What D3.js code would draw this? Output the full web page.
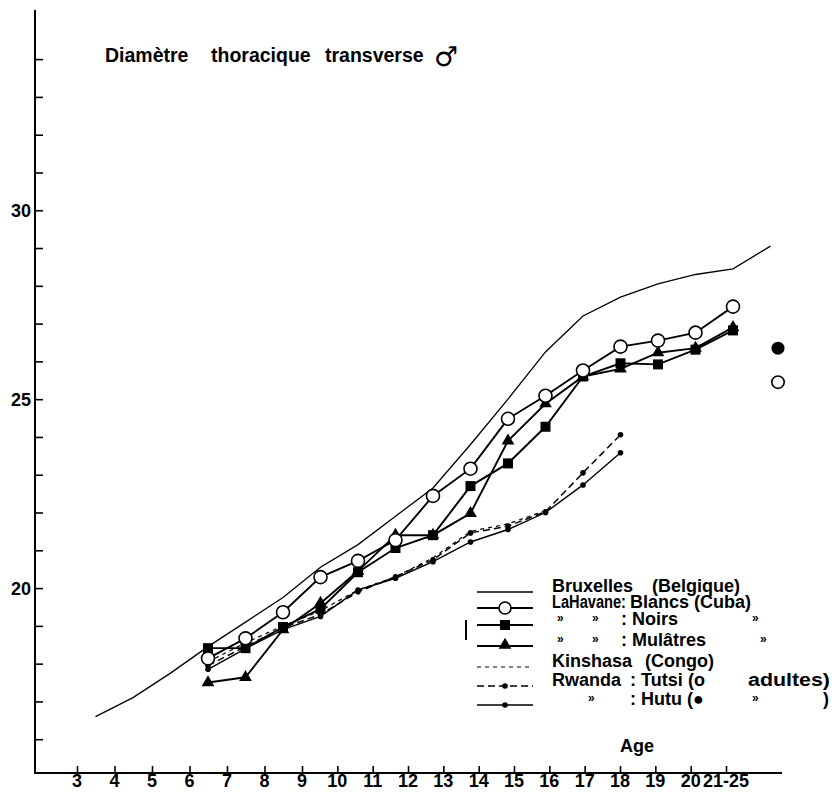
<!DOCTYPE html>
<html>
<head>
<meta charset="utf-8">
<script src="https://cdn.jsdelivr.net/npm/d3@7"></script>
<style>
  body { margin: 0; background: #fff; }
  text { font-family: "Liberation Sans", Arial, sans-serif; fill: #000; }
</style>
</head>
<body>
<script>
// ---- data ----
const ages = [6.5, 7.5, 8.5, 9.5, 10.5, 11.5, 12.5, 13.5, 14.5, 15.5, 16.5, 17.5, 18.5, 19.5, 20.5]
const blancs   = [18.14, 18.67, 19.36, 20.29, 20.72, 21.27, 22.44, 23.16, 24.48, 25.09, 25.76, 26.39, 26.55, 26.76, 27.45]
const noirs    = [18.41, 18.41, 18.97, 19.45, 20.42, 21.06, 21.4, 22.7, 23.3, 24.27, 25.6, 25.95, 25.92, 26.31, 26.82]
const mulatres = [17.5, 17.64, 18.9, 19.6, 20.45, 21.4, 21.4, 21.98, 23.9, 24.88, 25.6, 25.8, 26.23, 26.35, 26.9]

const bruxAges   = [3.5, 4.5, 5.5, 6.5, 7.5, 8.5, 9.5, 10.5, 11.5, 12.5, 13.5, 14.5, 15.5, 16.5, 17.5, 18.5, 19.5, 20.5, 21.5]
const bruxelles  = [16.6, 17.1, 17.75, 18.45, 19.1, 19.75, 20.55, 21.15, 21.9, 22.65, 23.8, 25.0, 26.25, 27.2, 27.7, 28.05, 28.3, 28.45, 29.05]

const africaAges = [6.5, 7.5, 8.5, 9.5, 10.5, 11.5, 12.5, 13.5, 14.5, 15.5, 16.5, 17.5]
const kinshasa   = [18.05, 18.55, 19.0, 19.4, 19.95, 20.3, 20.8, 21.5, 21.7, 22.05]
const tutsi      = [17.95, 18.45, 18.95, 19.3, 19.9, 20.3, 20.75, 21.46, 21.64, 22.02, 23.05, 24.06]
const hutu       = [17.85, 18.4, 18.9, 19.25, 19.95, 20.26, 20.7, 21.22, 21.55, 22.0, 22.73, 23.58]

const adultAge = 21.7
const tutsiAdult = 25.45
const hutuAdult = 26.35

const xTicks = [3, 4, 5, 6, 7, 8, 9, 10, 11, 12, 13, 14, 15, 16, 17, 18, 19, 20, 21]
const xTickLabels = ["3", "4", "5", "6", "7", "8", "9", "10", "11", "12", "13", "14", "15", "16", "17", "18", "19", "20", "21-25"]
const yTicks = d3.range(16, 35)
const yTickLabels = { 20: "20", 25: "25", 30: "30" }

// ---- setup ----
const WIDTH = 838
const HEIGHT = 795
const svg = d3.select("body").append("svg").attr("width", WIDTH).attr("height", HEIGHT)

// data scale (points are evenly spaced, 37.5 px / year)
const x = d3.scaleLinear().domain([6.5, 20.5]).range([208, 733])
// the printed axis ticks are squeezed after 9
const xAxisScale = d3.scaleLinear().domain([3, 9, 21]).range([77, 302, 726])
const y = d3.scaleLinear().domain([15, 35.3]).range([777, 10])

const axisX0 = 35
const axisY0 = 773

// y axis
const yAxis = svg.append("g").attr("transform", "translate(" + axisX0 + ",0)")
  .call(d3.axisRight(y).tickValues(yTicks).tickSize(8).tickFormat(""))
yAxis.select(".domain").remove()
yAxis.selectAll(".tick line").attr("stroke-width", 1.6)
svg.append("line").attr("x1", axisX0).attr("x2", axisX0).attr("y1", 10).attr("y2", axisY0 + 1)
  .attr("stroke", "#000").attr("stroke-width", 2)
svg.selectAll(".ylab").data(Object.keys(yTickLabels)).enter().append("text")
  .attr("x", 31).attr("y", d => y(+d) + 7)
  .attr("text-anchor", "end").attr("font-size", 18).attr("font-weight", "bold")
  .text(d => yTickLabels[d])

// x axis
const xAxis = svg.append("g").attr("transform", "translate(0," + axisY0 + ")")
  .call(d3.axisTop(xAxisScale).tickValues(xTicks).tickSize(7).tickFormat(""))
xAxis.select(".domain").remove()
xAxis.selectAll(".tick line").attr("stroke-width", 1.6)
svg.append("line").attr("x1", axisX0).attr("x2", 782).attr("y1", axisY0).attr("y2", axisY0)
  .attr("stroke", "#000").attr("stroke-width", 2)
svg.selectAll(".xlab").data(xTicks).enter().append("text")
  .attr("x", d => xAxisScale(d)).attr("y", 787)
  .attr("text-anchor", "middle").attr("font-size", 18).attr("font-weight", "bold")
  .text((d, i) => xTickLabels[i])

svg.append("text").attr("x", 620).attr("y", 752).attr("font-size", 18).attr("font-weight", "bold").text("Age")

// title
const titleWords = [[105, "Diamètre"], [211, "thoracique"], [325, "transverse"]]
titleWords.forEach(w => {
  svg.append("text").attr("x", w[0]).attr("y", 62).attr("font-size", 19.5).attr("font-weight", "bold").text(w[1])
})
svg.append("text").attr("x", 434).attr("y", 66).attr("font-size", 27).attr("font-weight", "bold")
  .style("font-family", "DejaVu Sans").text("♂")

// ---- lines ----
const line = d3.line().x(d => x(d[0])).y(d => y(d[1]))
const zip = (xs, vs) => vs.map((v, i) => [xs[i], v])

svg.append("path").datum(zip(bruxAges, bruxelles)).attr("d", line)
  .attr("fill", "none").attr("stroke", "#000").attr("stroke-width", 1.3)
svg.append("path").datum(zip(africaAges, kinshasa)).attr("d", line)
  .attr("fill", "none").attr("stroke", "#000").attr("stroke-width", 1.2).attr("stroke-dasharray", "4,4")
svg.append("path").datum(zip(africaAges, tutsi)).attr("d", line)
  .attr("fill", "none").attr("stroke", "#000").attr("stroke-width", 1.5).attr("stroke-dasharray", "7,4")
svg.append("path").datum(zip(africaAges, hutu)).attr("d", line)
  .attr("fill", "none").attr("stroke", "#000").attr("stroke-width", 1.4)

;[mulatres, noirs, blancs].forEach(vals => {
  svg.append("path").datum(zip(ages, vals)).attr("d", line)
    .attr("fill", "none").attr("stroke", "#000").attr("stroke-width", 1.9)
})

// ---- markers ----
const dots = zip(africaAges, tutsi).concat(zip(africaAges, hutu))
svg.selectAll(".dot").data(dots).enter().append("circle")
  .attr("cx", d => x(d[0])).attr("cy", d => y(d[1])).attr("r", 2.8).attr("fill", "#000")

const square = d3.symbol().type(d3.symbolSquare).size(100)
const triangle = d3.symbol().type(d3.symbolTriangle).size(70)

svg.selectAll(".noir").data(zip(ages, noirs)).enter().append("path")
  .attr("d", square).attr("transform", d => "translate(" + x(d[0]) + "," + y(d[1]) + ")").attr("fill", "#000")
svg.selectAll(".mul").data(zip(ages, mulatres)).enter().append("path")
  .attr("d", triangle).attr("transform", d => "translate(" + x(d[0]) + "," + y(d[1]) + ")").attr("fill", "#000")
svg.selectAll(".blanc").data(zip(ages, blancs)).enter().append("circle")
  .attr("cx", d => x(d[0])).attr("cy", d => y(d[1])).attr("r", 6.5)
  .attr("fill", "#fff").attr("stroke", "#000").attr("stroke-width", 1.6)

// adults
svg.append("circle").attr("cx", x(adultAge)).attr("cy", y(hutuAdult)).attr("r", 6.5).attr("fill", "#000")
svg.append("circle").attr("cx", x(adultAge)).attr("cy", y(tutsiAdult)).attr("r", 6.2)
  .attr("fill", "#fff").attr("stroke", "#000").attr("stroke-width", 1.6)

// ---- legend ----
const lg = svg.append("g")
const lx0 = 477, lx1 = 533, lxm = 505
const rows = [592, 608, 625, 646, 667, 686, 705]
const seg = (yy, w, dash) => lg.append("line").attr("x1", lx0).attr("x2", lx1).attr("y1", yy).attr("y2", yy)
  .attr("stroke", "#000").attr("stroke-width", w).attr("stroke-dasharray", dash || null)

seg(rows[0], 1.3)
seg(rows[1], 1.9)
lg.append("circle").attr("cx", lxm).attr("cy", rows[1]).attr("r", 6).attr("fill", "#fff").attr("stroke", "#000").attr("stroke-width", 1.6)
seg(rows[2], 1.9)
lg.append("path").attr("d", square).attr("transform", "translate(" + lxm + "," + rows[2] + ")")
seg(rows[3], 1.9)
lg.append("path").attr("d", triangle).attr("transform", "translate(" + lxm + "," + (rows[3] - 1) + ")")
seg(rows[4], 1.2, "4,4")
seg(rows[5], 1.5, "7,4")
lg.append("circle").attr("cx", lxm).attr("cy", rows[5]).attr("r", 2.8)
seg(rows[6], 1.4)
lg.append("circle").attr("cx", lxm).attr("cy", rows[6]).attr("r", 2.8)
lg.append("line").attr("x1", 466).attr("x2", 466).attr("y1", 620).attr("y2", 640).attr("stroke", "#000").attr("stroke-width", 2)

// [x, text] ; "LaHavane:" is squeezed like in the print
const legendText = [
  [[552, "Bruxelles"], [652, "(Belgique)"]],
  [[552, "LaHavane:"], [630, "Blancs (Cuba)"]],
  [[557, "»"], [592, "»"], [621, ": Noirs"], [752, "»"]],
  [[557, "»"], [592, "»"], [621, ": Mulâtres"], [760, "»"]],
  [[552, "Kinshasa"], [645, "(Congo)"]],
  [[552, "Rwanda"], [630, ": Tutsi"], [688, "(o"], [748, "adultes)"]],
  [[588, "»"], [630, ": Hutu (\u25CF"], [752, "»"], [823, ")"]]
]
legendText.forEach((parts, i) => {
  parts.forEach(p => {
    const small = p[1] === "»"
    const t = lg.append("text").attr("x", p[0]).attr("y", rows[i] - (small ? 3 : 0)).attr("font-weight", "bold")
      .attr("font-size", small ? 12 : 18).text(p[1])
    if (p[1] === "LaHavane:") t.attr("textLength", 74).attr("lengthAdjust", "spacingAndGlyphs")
    if (p[1] === "adultes)") t.attr("textLength", 82).attr("lengthAdjust", "spacingAndGlyphs")
  })
})
</script>
</body>
</html>
